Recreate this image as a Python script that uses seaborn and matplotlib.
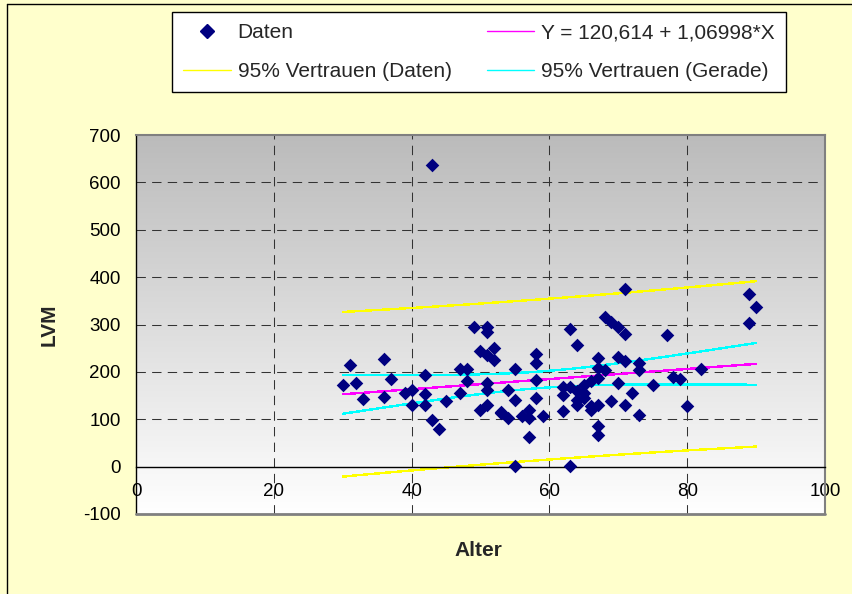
import numpy as np
import pandas as pd
import matplotlib
matplotlib.use("Agg")
import matplotlib.pyplot as plt
import seaborn as sns
from matplotlib.colors import LinearSegmentedColormap
from matplotlib.lines import Line2D

# Age (Alter) and left-ventricular mass (LVM) of each subject
alter = [30, 31, 32, 33, 36, 36, 37, 39, 40, 40,
         42, 42, 42, 43, 43, 44, 45, 47, 47, 48,
         48, 49, 50, 50, 51, 51, 51, 51, 51, 51,
         52, 52, 53, 53, 54, 54, 55, 55, 55, 56,
         57, 57, 57, 58, 58, 58, 58, 59, 62, 62,
         62, 63, 63, 63, 64, 64, 64, 64, 65, 65,
         65, 66, 66, 66, 67, 67, 67, 67, 67, 67,
         68, 68, 69, 69, 70, 70, 70, 71, 71, 71,
         71, 72, 73, 73, 73, 75, 77, 78, 79, 80,
         82, 89, 89, 90]
lvm = [173, 215, 176, 143, 227, 147, 185, 156, 161, 131,
       194, 154, 131, 98, 636, 79, 139, 207, 156, 207,
       181, 295, 245, 120, 295, 285, 236, 176, 162, 131,
       250, 225, 113, 116, 161, 102, 206, 140, 1, 106,
       120, 102, 62, 238, 218, 182, 145, 106, 169, 152,
       118, 290, 169, 1, 257, 159, 141, 131, 173, 155,
       145, 180, 120, 127, 229, 208, 187, 131, 85, 67,
       316, 204, 306, 139, 295, 232, 176, 375, 281, 222,
       131, 155, 219, 204, 110, 173, 278, 190, 185, 127,
       206, 364, 304, 336]

# Fitted regression line Y = a + b*X
intercept = 120.614
slope = 1.06998
t_95 = 1.986  # Student t quantile, 95 %, df = n - 2

x_ticks = [0, 20, 40, 60, 80, 100]
y_ticks = [-100, 0, 100, 200, 300, 400, 500, 600, 700]

label_data = "Daten"
label_fit = "Y = 120,614 + 1,06998*X"
label_pred = "95% Vertrauen (Daten)"
label_conf = "95% Vertrauen (Gerade)"

df = pd.DataFrame({"Alter": alter, "LVM": lvm})

# Confidence band of the line and prediction band of the data
x = df["Alter"].to_numpy(float)
y = df["LVM"].to_numpy(float)
n = len(x)
resid = y - (intercept + slope * x)
s = np.sqrt((resid ** 2).sum() / (n - 2))
xbar = x.mean()
sxx = ((x - xbar) ** 2).sum()
xs = np.unique(x)
fit = intercept + slope * xs
conf_hw = t_95 * s * np.sqrt(1 / n + (xs - xbar) ** 2 / sxx)
pred_hw = t_95 * s * np.sqrt(1 + 1 / n + (xs - xbar) ** 2 / sxx)

sns.set_theme(style="white")
plt.rcParams["font.family"] = ["Liberation Sans", "DejaVu Sans"]

W, H = 853, 594
fig = plt.figure(figsize=(W / 100, H / 100), dpi=100, facecolor="#FFFFCC")

# outer frame (top and left edges)
fig.add_artist(Line2D([7 / W, 1], [1 - 4 / H, 1 - 4 / H], color="#000000", lw=1.0))
fig.add_artist(Line2D([7 / W, 7 / W], [0, 1 - 4 / H], color="#000000", lw=1.0))

ax = fig.add_axes([136 / W, 1 - 514 / H, 689 / W, 379 / H])

# grey-to-white gradient plot area (grey at the top)
cmap = LinearSegmentedColormap.from_list("plotarea", ["#BBBBBB", "#FFFFFF"])
grad = np.linspace(0, 1, 256).reshape(-1, 1)
ax.imshow(grad, extent=[0, 100, -100, 700], aspect="auto", cmap=cmap,
          zorder=0, origin="upper")
ax.set_xlim(0, 100)
ax.set_ylim(-100, 700)

# dashed grid
grid_kw = dict(color="#333333", lw=0.75, linestyle=(0, (9, 6)), zorder=1)
for gx in x_ticks[1:-1]:
    ax.axvline(gx, **grid_kw)
for gy in y_ticks:
    if gy not in (-100, 0, 700):
        ax.axhline(gy, **grid_kw)

# bands and regression line
ax.plot(xs, fit + pred_hw, color="#FFFF00", lw=1, antialiased=False, zorder=2)
ax.plot(xs, fit - pred_hw, color="#FFFF00", lw=1, antialiased=False, zorder=2)
ax.plot(xs, fit + conf_hw, color="#00FFFF", lw=1, antialiased=False, zorder=2)
ax.plot(xs, fit - conf_hw, color="#00FFFF", lw=1, antialiased=False, zorder=2)
ax.plot(xs, fit, color="#FF00FF", lw=1, antialiased=False, zorder=2)

sns.scatterplot(data=df, x="Alter", y="LVM", marker="D", s=48, color="#000080",
                linewidth=0, ax=ax, legend=False, zorder=3)

# axes styling
for side in ("top", "right"):
    ax.spines[side].set_color("#808080")
    ax.spines[side].set_linewidth(1.5)
ax.spines["left"].set_color("#000000")
ax.spines["left"].set_linewidth(1.0)
ax.spines["bottom"].set_position(("data", 0))
ax.spines["bottom"].set_color("#000000")
ax.spines["bottom"].set_linewidth(1.0)
ax.axhline(-100, color="#808080", lw=2.0, zorder=4, clip_on=False)

ax.set_xticks(x_ticks)
ax.set_yticks(y_ticks)
ax.set_xticklabels([str(v) for v in x_ticks])
ax.set_yticklabels([str(v) for v in y_ticks])
ax.tick_params(axis="both", which="major", labelsize=13.5, colors="#000000",
               direction="out", length=5, width=1)
ax.tick_params(axis="x", pad=7)
ax.tick_params(axis="y", pad=6)
ax.set_xlabel("")
ax.set_ylabel("")

fig.text(478 / W, 1 - 551 / H, "Alter", ha="center", va="center",
         fontsize=15, fontweight="bold")
fig.text(49 / W, 1 - 325 / H, "LVM", ha="center", va="center",
         rotation=90, fontsize=15, fontweight="bold")

handles = [
    Line2D([], [], marker="D", color="#000080", linestyle="none", markersize=7),
    Line2D([], [], color="#FFFF00", lw=1),
    Line2D([], [], color="#FF00FF", lw=1),
    Line2D([], [], color="#00FFFF", lw=1),
]
labels = [label_data, label_pred, label_fit, label_conf]
leg = fig.legend(handles, labels, ncol=2, loc="upper left",
                 bbox_to_anchor=(172 / W, 1 - 12 / H), fontsize=15,
                 frameon=True, fancybox=False, framealpha=1,
                 edgecolor="#000000", facecolor="#FFFFFF",
                 handlelength=2.26, handletextpad=0.34, columnspacing=1.7,
                 borderpad=0.55, labelspacing=0.93, borderaxespad=0)
leg.get_frame().set_linewidth(1.0)

fig.savefig("out.png", dpi=100, facecolor=fig.get_facecolor())
